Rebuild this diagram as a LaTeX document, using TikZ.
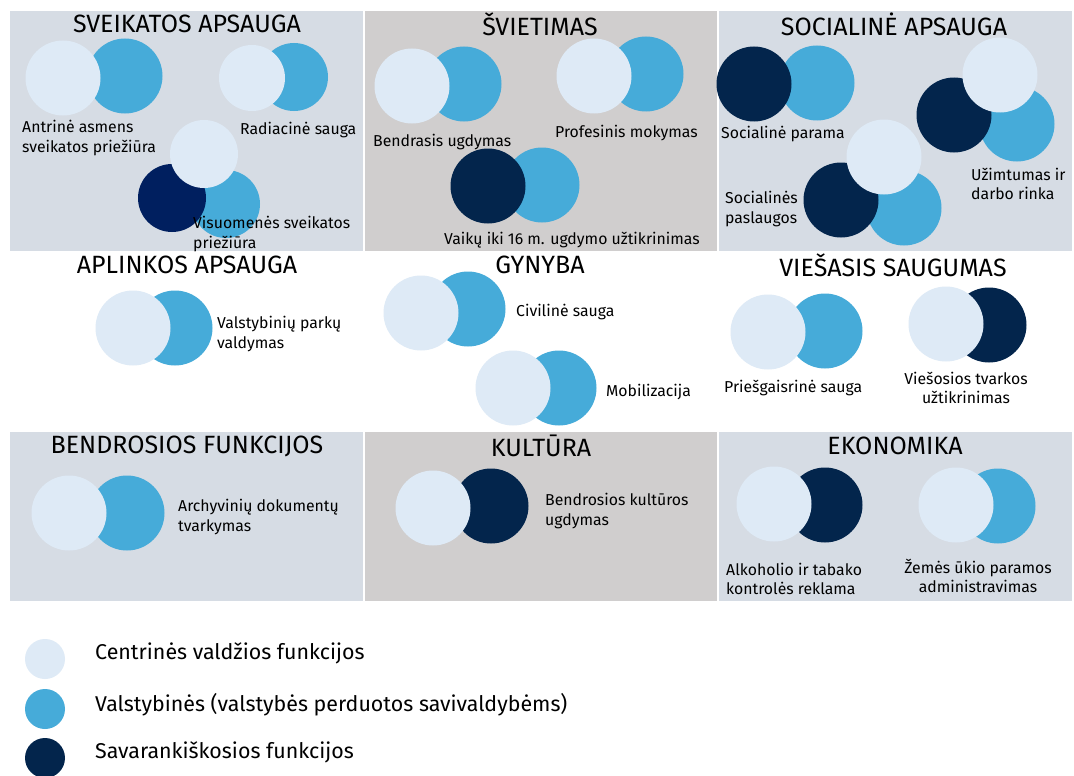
\documentclass[tikz,border=0pt]{standalone}
\usepackage{fontspec}
\setmainfont{Fira Sans}
\usepackage{tikz}
\usetikzlibrary{positioning}

\definecolor{panelblue}{HTML}{D6DCE4}
\definecolor{panelgray}{HTML}{D0CECE}
\definecolor{centrfn}{HTML}{DEEAF6}
\definecolor{valstfn}{HTML}{46ABD9}
\definecolor{savarfn}{HTML}{03254C}
\definecolor{savarfnb}{HTML}{001F5F}

\tikzset{
  fnc/.style={circle, inner sep=0pt, minimum size=75pt},
  centr/.style={fnc, fill=centrfn},
  valst/.style={fnc, fill=valstfn},
  savar/.style={fnc, fill=savarfn},
  title/.style={font=\fontsize{25}{29}\selectfont, text=black},
  lbl/.style={font=\fontsize{15.8}{19.5}\selectfont, align=left, anchor=west, inner sep=0pt, yshift=-2pt},
  legtext/.style={font=\fontsize{21.4}{25}\selectfont, anchor=west, inner sep=0pt}
}

\begin{document}
\begin{tikzpicture}[x=1pt, y=-1pt]
\useasboundingbox (0,0) rectangle (1074,776);
\fill[white] (0,0) rectangle (1074,776);

% panels
\fill[panelblue] (10,11) rectangle (363,251);
\fill[panelgray] (365,11) rectangle (717,251);
\fill[panelblue] (719,11) rectangle (1072,251);
\fill[panelblue] (10,432) rectangle (363,601);
\fill[panelgray] (365,432) rectangle (717,601);
\fill[panelblue] (719,432) rectangle (1072,601);

% titles
\node[title] at (187,24) (t1) {SVEIKATOS APSAUGA};
\node[title] at (540,24) (t2) {ŠVIETIMAS};
\node[title] at (894,24) (t3) {SOCIALINĖ APSAUGA};
\node[title] at (187,265) (t4) {APLINKOS APSAUGA};
\node[title] at (540,265) (t5) {GYNYBA};
\node[title] at (893,265) (t6) {VIEŠASIS SAUGUMAS};
\node[title] at (187,446) (t7) {BENDROSIOS FUNKCIJOS};
\node[title] at (541,446) (t8) {KULTŪRA};
\node[title] at (895,446) (t9) {EKONOMIKA};

% sveikatos apsauga
\node[valst] at (125,76) (antr-v) {};
\node[centr] at (63,78) (antr-c) {};
\node[valst, minimum size=68pt] at (294,77) (rad-v) {};
\node[centr, minimum size=66pt] at (252,78) (rad-c) {};
\node[valst, minimum size=68pt] at (226,204) (visu-v) {};
\node[savar, fill=savarfnb, minimum size=68pt] at (172,198) (visu-s) {};
\node[centr, minimum size=68pt] at (204,154) (visu-c) {};
\node[lbl] at (22,136) (antr) {Antrinė asmens\\sveikatos priežiūra};
\node[lbl] at (240,128) (rad) {Radiacinė sauga};
\node[lbl] at (193,232) (visu) {Visuomenės sveikatos\\priežiūra};

% svietimas
\node[valst] at (464,84) (bendr-v) {};
\node[centr] at (412,86) (bendr-c) {};
\node[valst] at (646,74) (prof-v) {};
\node[centr] at (594,76) (prof-c) {};
\node[valst] at (542,185) (vaik-v) {};
\node[savar] at (488,186) (vaik-s) {};
\node[lbl] at (373,140) (bendr) {Bendrasis ugdymas};
\node[lbl] at (555,131) (prof) {Profesinis mokymas};
\node[lbl] at (444,238) (vaik) {Vaikų iki 16 m. ugdymo užtikrinimas};

% socialine apsauga
\node[valst] at (817,83) (par-v) {};
\node[savar] at (754,84) (par-s) {};
\node[valst] at (1017,124) (uzim-v) {};
\node[savar] at (954,115) (uzim-s) {};
\node[centr] at (1000,75) (uzim-c) {};
\node[valst] at (904,208) (pasl-v) {};
\node[savar] at (841,200) (pasl-s) {};
\node[centr] at (884,157) (pasl-c) {};
\node[lbl] at (721,132) (par) {Socialinė parama};
\node[lbl] at (971,182) (uzim) {Užimtumas ir\\darbo rinka};
\node[lbl] at (725,207) (pasl) {Socialinės\\paslaugos};

% aplinkos apsauga
\node[valst] at (175,328) (park-v) {};
\node[centr] at (133,328) (park-c) {};
\node[lbl] at (217,332) (park) {Valstybinių parkų\\valdymas};

% gynyba
\node[valst] at (468,309) (civ-v) {};
\node[centr] at (421,313) (civ-c) {};
\node[valst] at (559,388) (mob-v) {};
\node[centr] at (513,388) (mob-c) {};
\node[lbl] at (516,310) (civ) {Civilinė sauga};
\node[lbl] at (606,390) (mob) {Mobilizacija};

% viesasis saugumas
\node[valst] at (825,331) (gais-v) {};
\node[centr] at (768,332) (gais-c) {};
\node[savar] at (989,325) (tvark-s) {};
\node[centr] at (946,324) (tvark-c) {};
\node[lbl] at (724,386) (gais) {Priešgaisrinė sauga};
\node[lbl, align=center, anchor=center] at (966,386) (tvark) {Viešosios tvarkos\\užtikrinimas};

% bendrosios funkcijos
\node[valst] at (127,513) (arch-v) {};
\node[centr] at (69,513) (arch-c) {};
\node[lbl] at (178,515) (arch) {Archyvinių dokumentų\\tvarkymas};

% kultura
\node[savar] at (491,506) (kult-s) {};
\node[centr] at (433,508) (kult-c) {};
\node[lbl] at (545,509) (kult) {Bendrosios kultūros\\ugdymas};

% ekonomika
\node[savar] at (825,505) (alk-s) {};
\node[centr] at (774,504) (alk-c) {};
\node[valst] at (998,506) (zem-v) {};
\node[centr] at (956,505) (zem-c) {};
\node[lbl] at (726,577) (alk) {Alkoholio ir tabako\\kontrolės reklama};
\node[lbl, align=center, anchor=center] at (978,574) (zem) {Žemės ūkio paramos\\administravimas};

% legend
\node[centr, minimum size=40pt] at (45,659) (leg1) {};
\node[valst, minimum size=40pt] at (45,709) (leg2) {};
\node[savar, minimum size=40pt] at (45,758) (leg3) {};
\node[legtext] at (95,653) (leg1t) {Centrinės valdžios funkcijos};
\node[legtext] at (95,705) (leg2t) {Valstybinės (valstybės perduotos savivaldybėms)};
\node[legtext] at (95,752) (leg3t) {Savarankiškosios funkcijos};

\end{tikzpicture}
\end{document}
